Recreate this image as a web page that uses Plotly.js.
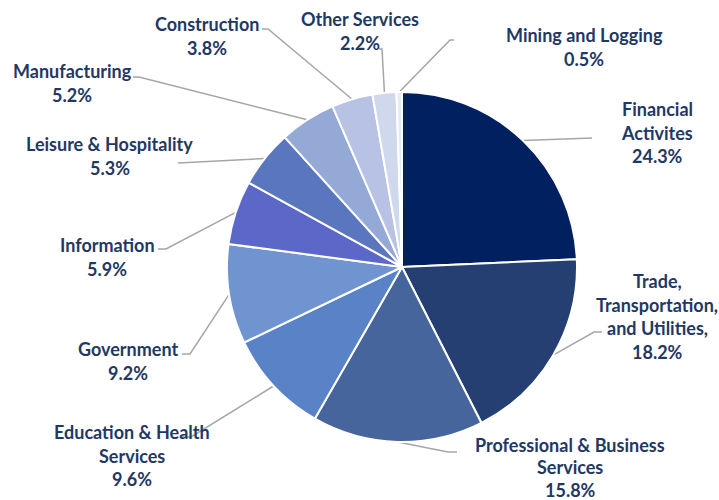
<!DOCTYPE html>
<html>
<head>
<meta charset="utf-8">
<script src="https://cdn.plot.ly/plotly-3.0.1.min.js"></script>
<style>
  html, body { margin: 0; padding: 0; background: #ffffff; }
  #chart { width: 719px; height: 500px; }
</style>
</head>
<body>
<div id="chart"></div>
<script>
// ---- Data ----
const sectors = [
  "Financial Activites",
  "Trade, Transportation, and Utilities,",
  "Professional & Business Services",
  "Education & Health Services",
  "Government",
  "Information",
  "Leisure & Hospitality",
  "Manufacturing",
  "Construction",
  "Other Services",
  "Mining and Logging"
];
const shares = [24.3, 18.2, 15.8, 9.6, 9.2, 5.9, 5.3, 5.2, 3.8, 2.2, 0.5];
const labelLines = [
  ["Financial", "Activites"],
  ["Trade,", "Transportation,", "and Utilities,"],
  ["Professional & Business", "Services"],
  ["Education & Health", "Services"],
  ["Government"],
  ["Information"],
  ["Leisure & Hospitality"],
  ["Manufacturing"],
  ["Construction"],
  ["Other Services"],
  ["Mining and Logging"]
];

// ---- Styles / layout (not data) ----
const sliceColors = ["#002060", "#253F73", "#46659D", "#5A82C6", "#7094D0",
  "#5B68C8", "#5A76BE", "#95A9D7", "#B7C2E4", "#D0D8EE", "#E6EBF6"];
const W = 719, H = 500;
const pieCx = 402, pieCy = 267, pieR = 175;   // pixel geometry of the pie domain
// label placement: centre x, first-line centre y, line gap (px); leader path after start point (px)
const labelPos = [
  {x: 657, y: 109, gap: 23.7, path: [[592, 138]]},
  {x: 657, y: 281, gap: 23.7, path: [[594, 332], [602, 332]]},
  {x: 570, y: 445, gap: 22.4, path: [[448, 452], [457, 452]]},
  {x: 132, y: 432, gap: 23.7, path: [[191, 437], [181, 437]]},
  {x: 128, y: 349, gap: 23.7, path: [[190, 354], [182, 354]]},
  {x: 107, y: 245, gap: 23.7, path: [[166, 249], [158, 249]]},
  {x: 110, y: 144, gap: 23.7, path: [[178, 163]]},
  {x: 72,  y: 71,  gap: 23.7, path: [[139, 77], [133, 77]]},
  {x: 207, y: 24,  gap: 23.7, path: [[268, 29], [262, 29]]},
  {x: 360, y: 19,  gap: 23.7, path: [[382, 49], [379, 49]]},
  {x: 584, y: 35,  gap: 23.7, path: [[450, 40], [454, 40]]}
];
const textColor = "#1F3864";
const fontFam = "Lato, 'Open Sans', sans-serif";

const px = v => v / W;
const py = v => 1 - v / H;

const total = shares.reduce((a, b) => a + b, 0);
const annotations = [];
const shapes = [];
let cum = 0;
shares.forEach((v, i) => {
  const midFrac = (cum + v / 2) / total;
  cum += v;
  const ang = midFrac * 2 * Math.PI;
  const sx = pieCx + pieR * Math.sin(ang);
  const sy = pieCy - pieR * Math.cos(ang);
  const pos = labelPos[i];
  let d = `M ${px(sx)} ${py(sy)}`;
  pos.path.forEach(p => { d += ` L ${px(p[0])} ${py(p[1])}`; });
  shapes.push({type: "path", xref: "paper", yref: "paper", path: d,
    line: {color: "#A6A6A6", width: 1.5}, layer: "below"});
  const lines = labelLines[i].concat([v.toFixed(1) + "%"]);
  lines.forEach((t, k) => {
    annotations.push({
      xref: "paper", yref: "paper",
      x: px(pos.x), y: py(pos.y + k * pos.gap),
      xanchor: "center", yanchor: "middle",
      text: t, showarrow: false,
      font: {family: fontFam, size: 18, color: textColor, weight: 700}
    });
  });
});

const trace = {
  type: "pie",
  labels: sectors,
  values: shares,
  sort: false,
  direction: "clockwise",
  rotation: 0,
  textinfo: "none",
  hoverinfo: "label+percent",
  marker: {colors: sliceColors, line: {color: "#ffffff", width: 2}},
  domain: {x: [px(pieCx - pieR), px(pieCx + pieR)], y: [py(pieCy + pieR), py(pieCy - pieR)]},
  showlegend: false
};

const layout = {
  width: W, height: H,
  margin: {l: 0, r: 0, t: 0, b: 0},
  paper_bgcolor: "#ffffff",
  plot_bgcolor: "#ffffff",
  showlegend: false,
  shapes: shapes,
  annotations: annotations
};

Plotly.newPlot("chart", [trace], layout, {displayModeBar: false, staticPlot: true});
</script>
</body>
</html>
